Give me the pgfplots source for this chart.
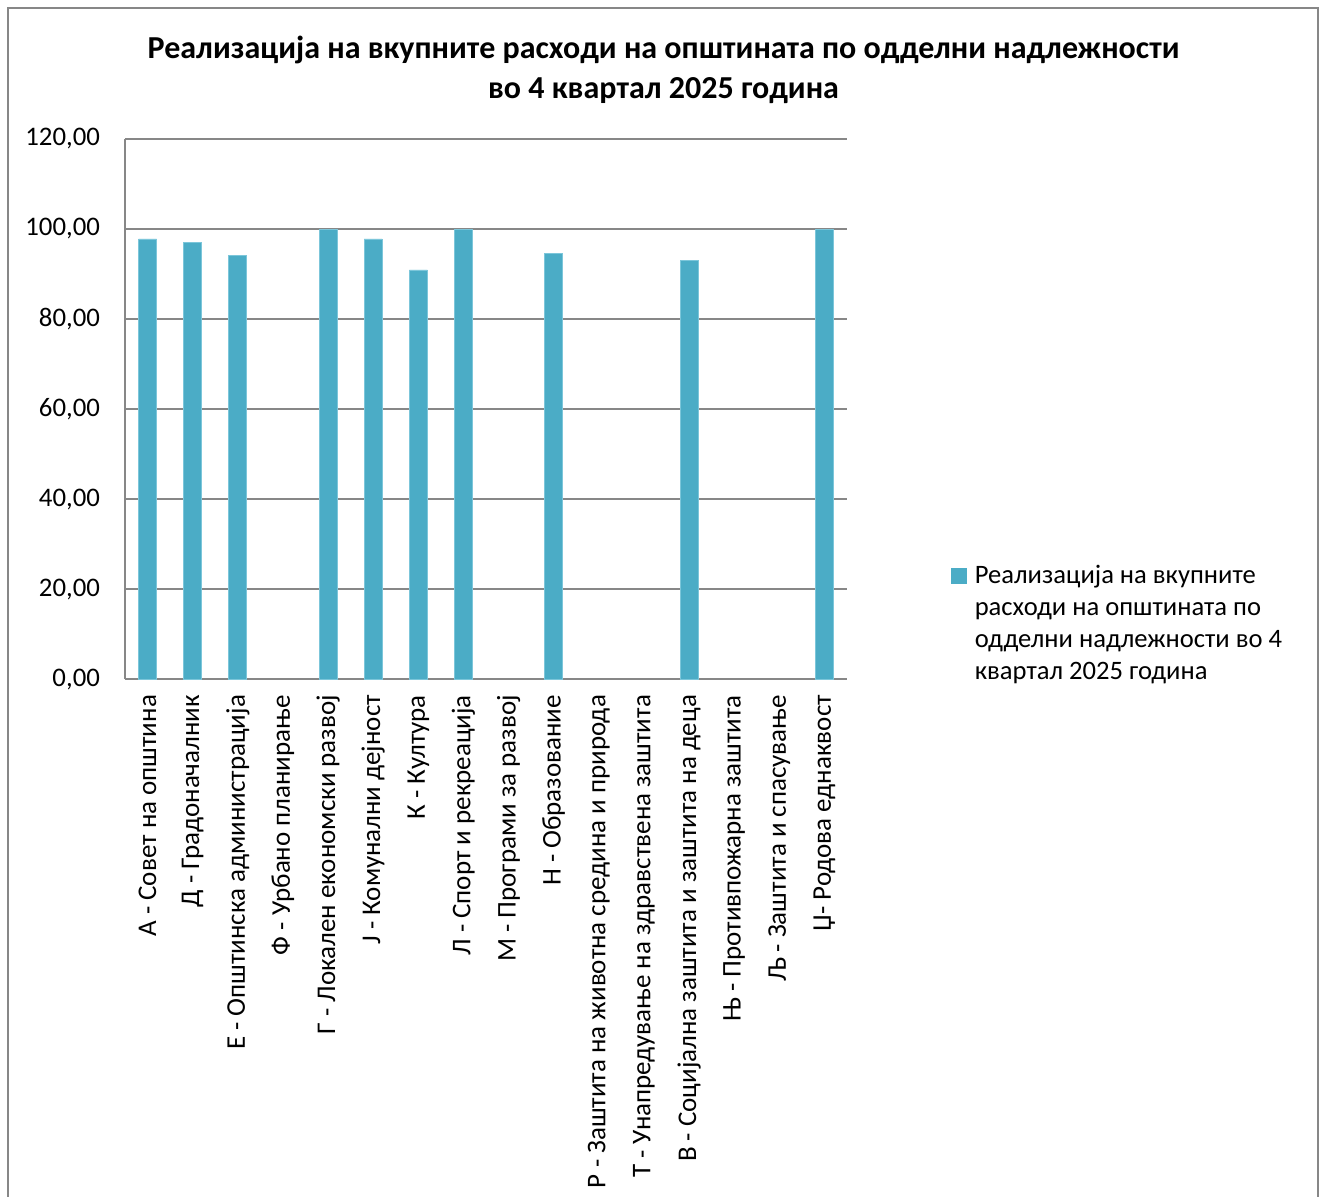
\documentclass[border=0pt]{standalone}
\usepackage{fontspec}
\setmainfont{Carlito}
\usepackage{pgfplots}
\pgfplotsset{compat=1.18}
\definecolor{barblue}{HTML}{4BACC6}
\definecolor{baredge}{HTML}{7CC6DA}
\definecolor{gridgray}{HTML}{878787}
\begin{document}
\begin{tikzpicture}
% page: 1321x1196 px, 1 px = 0.5pt
\useasboundingbox (0pt,0pt) rectangle (660.5pt,-598pt);
\draw[gridgray, line width=1pt] (4pt,-600pt) -- (4pt,-4pt) -- (659pt,-4pt) -- (659pt,-600pt);
\node[font=\bfseries\fontsize{16}{20}\selectfont, align=center] at (331.75pt,-35pt)
  {Реализација на вкупните расходи на општината по одделни надлежности\\во 4 квартал 2025 година};
\begin{axis}[
    at={(62.5pt,-339.5pt)}, anchor=south west,
    scale only axis, width=361pt, height=270pt,
    ybar, bar width=9pt,
    ymin=0, ymax=120, ytick={0,20,...,120},
    xmin=-0.5, xmax=15.5, xtick={0,...,15},
    xticklabels={{А - Совет на општина},{Д - Градоначалник},{Е - Општинска администрација},
      {Ф - Урбано планирање},{Г - Локален економски развој},{Ј - Комунални дејност},
      {К - Култура},{Л - Спорт и рекреација},{М - Програми за развој},{Н - Образование},
      {Р - Заштита на животна средина и природа},{Т - Унапредување на здравствена заштита},
      {В - Социјална заштита и заштита на деца},{Њ - Противпожарна заштита},
      {Љ - Заштита и спасување},{Џ- Родова еднаквост}},
    axis x line*=bottom, axis y line*=left,
    axis line style={gridgray, line width=1pt, -},
    ymajorgrids, grid style={gridgray, line width=1pt},
    major tick length=0pt,
    xticklabel style={rotate=90, anchor=east, font=\fontsize{13.5}{16}\selectfont},
    xticklabel shift=4.5pt,
    yticklabel style={xshift=-9pt, font=\fontsize{13.4}{16}\selectfont,
      /pgf/number format/.cd, fixed, fixed zerofill,
      precision=2, use comma, assume math mode=true},
    legend style={draw=none, fill=none, at={(1.144,0.102)}, anchor=west,
      inner sep=0pt, font=\fontsize{13.3}{16}\selectfont, cells={align=left},
      column sep=1.8pt},
    legend image code/.code={\fill[barblue] (0pt,20.25pt) rectangle (7.5pt,27.75pt);},
  ]
  \addplot[fill=barblue, draw=baredge, line width=0.4pt]
  coordinates {
(0,97.8)
(1,97.1)
(2,94.1)
(4,100.0)
(5,97.8)
(6,90.9)
(7,100.0)
(9,94.6)
(12,93.0)
(15,100.0)
  };
  \addlegendentry{Реализација на вкупните\\расходи на општината по\\одделни надлежности во 4\\квартал 2025 година}
\end{axis}
\end{tikzpicture}
\end{document}
